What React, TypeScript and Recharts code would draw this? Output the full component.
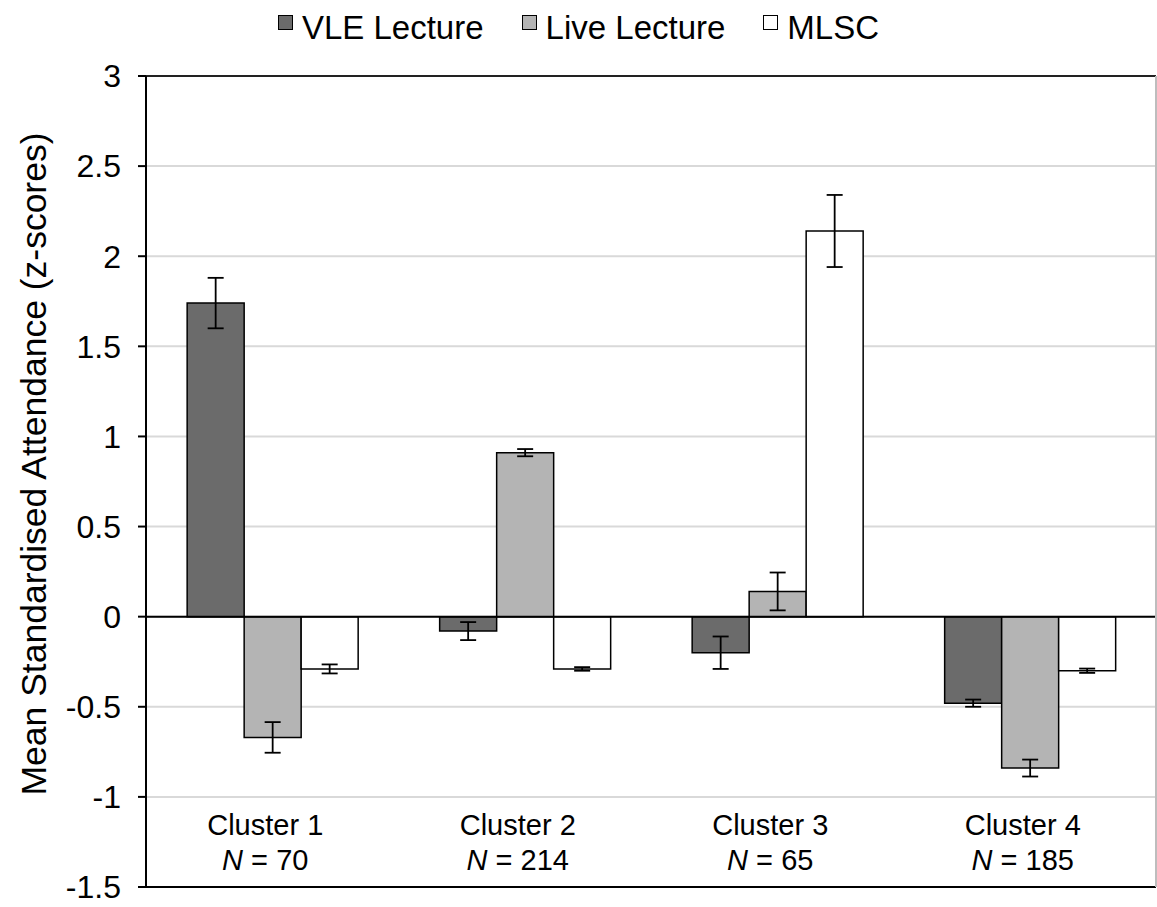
import React from 'react';
import {
  BarChart,
  Bar,
  XAxis,
  YAxis,
  CartesianGrid,
  ReferenceLine,
  ErrorBar,
} from 'recharts';

const categories = ['Cluster 1', 'Cluster 2', 'Cluster 3', 'Cluster 4'];
const sampleSizes = [70, 214, 65, 185];

const vleLecture = [1.74, -0.08, -0.2, -0.48];
const vleLectureErr = [0.14, 0.05, 0.09, 0.02];
const liveLecture = [-0.67, 0.91, 0.14, -0.84];
const liveLectureErr = [0.085, 0.02, 0.105, 0.047];
const mlsc = [-0.29, -0.29, 2.14, -0.3];
const mlscErr = [0.025, 0.01, 0.2, 0.012];

const yTicks = [-1.5, -1, -0.5, 0, 0.5, 1, 1.5, 2, 2.5, 3];

const seriesNames = ['VLE Lecture', 'Live Lecture', 'MLSC'];
const seriesColors = ['#6b6b6b', '#b4b4b4', '#ffffff'];

const data = categories.map((c, i) => ({
  name: c,
  n: sampleSizes[i],
  vle: vleLecture[i],
  vleErr: vleLectureErr[i],
  live: liveLecture[i],
  liveErr: liveLectureErr[i],
  mlsc: mlsc[i],
  mlscErr: mlscErr[i],
}));

const FONT = '"Liberation Sans", Arial, Helvetica, sans-serif';

// two-line category label sitting just above the bottom axis
const ClusterTick = (props: any) => {
  const { x, y, payload } = props;
  const i = payload?.index ?? 0;
  return (
    <g>
      <text x={x - 7} y={y - 52} textAnchor="middle" fontSize={29} fontFamily={FONT} fill="#000">
        {categories[i]}
      </text>
      <text x={x - 7} y={y - 17} textAnchor="middle" fontSize={29} fontFamily={FONT} fill="#000">
        <tspan fontStyle="italic">N</tspan> = {sampleSizes[i]}
      </text>
    </g>
  );
};

const YTitle = () => (
  <text
    x={46}
    y={464}
    transform="rotate(-90 46 464)"
    textAnchor="middle"
    fontSize={35.5}
    fontFamily={FONT}
    fill="#000"
  >
    Mean Standardised Attendance (z-scores)
  </text>
);

export default function App() {
  return (
    <div style={{ position: 'absolute', left: 0, top: 0, width: 1157, height: 907, background: '#fff' }}>
      <div
        style={{
          position: 'absolute',
          top: 11,
          left: 0,
          width: 1157,
          display: 'flex',
          justifyContent: 'center',
          alignItems: 'flex-start',
          fontFamily: FONT,
          fontSize: 33,
          lineHeight: 1,
          color: '#000',
        }}
      >
        {seriesNames.map((s, i) => (
          <div key={s} style={{ display: 'flex', alignItems: 'flex-start', marginRight: i < seriesNames.length - 1 ? 38 : 0 }}>
            <div
              style={{
                width: 13,
                height: 13,
                marginTop: 4,
                marginRight: 9,
                background: seriesColors[i],
                border: '1.5px solid #000',
              }}
            />
            <span>{s}</span>
          </div>
        ))}
      </div>
      <BarChart
        width={1157}
        height={907}
        data={data}
        margin={{ top: 76, right: 0, bottom: 0, left: 0 }}
        barCategoryGap="16.3%"
        barGap={0}
      >
        <CartesianGrid vertical={false} stroke="#d9d9d9" strokeWidth={2} />
        <XAxis
          dataKey="name"
          height={20}
          interval={0}
          tickLine={false}
          tickSize={0}
          tickMargin={0}
          axisLine={{ stroke: '#000', strokeWidth: 2 }}
          tick={<ClusterTick />}
        />
        <YAxis
          width={146}
          domain={[-1.5, 3]}
          ticks={yTicks}
          interval={0}
          allowDataOverflow
          tickSize={8}
          tickMargin={17}
          axisLine={{ stroke: '#000', strokeWidth: 2 }}
          tickLine={{ stroke: '#000', strokeWidth: 2 }}
          tick={{ fontSize: 32, fontFamily: FONT, fill: '#000' }}
          label={<YTitle />}
        />
        <YAxis
          yAxisId="right"
          orientation="right"
          width={1}
          domain={[-1.5, 3]}
          tick={false}
          tickLine={false}
          axisLine={{ stroke: '#bdbdbd', strokeWidth: 2 }}
        />
        <ReferenceLine y={3} stroke="#222" strokeWidth={2} />
        <Bar dataKey="vle" name={seriesNames[0]} fill={seriesColors[0]} stroke="#000" strokeWidth={1.5} isAnimationActive={false}>
          <ErrorBar dataKey="vleErr" direction="y" width={8} stroke="#000" strokeWidth={1.8} isAnimationActive={false} />
        </Bar>
        <Bar dataKey="live" name={seriesNames[1]} fill={seriesColors[1]} stroke="#000" strokeWidth={1.5} isAnimationActive={false}>
          <ErrorBar dataKey="liveErr" direction="y" width={8} stroke="#000" strokeWidth={1.8} isAnimationActive={false} />
        </Bar>
        <Bar dataKey="mlsc" name={seriesNames[2]} fill={seriesColors[2]} stroke="#000" strokeWidth={1.5} isAnimationActive={false}>
          <ErrorBar dataKey="mlscErr" direction="y" width={8} stroke="#000" strokeWidth={1.8} isAnimationActive={false} />
        </Bar>
        <ReferenceLine y={0} stroke="#000" strokeWidth={2} />
      </BarChart>
    </div>
  );
}
